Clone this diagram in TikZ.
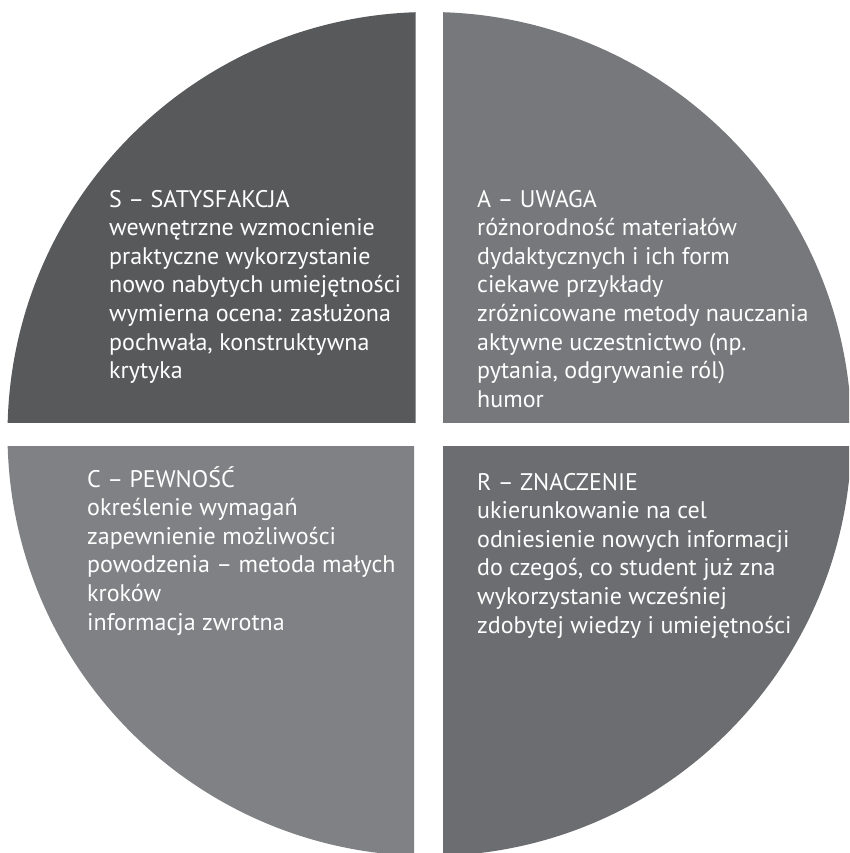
\documentclass[tikz,border=0pt]{standalone}
\usepackage{fontspec}
\setmainfont{PT Sans}
\definecolor{qtl}{HTML}{58595B}
\definecolor{qtr}{HTML}{77787B}
\definecolor{qbl}{HTML}{808184}
\definecolor{qbr}{HTML}{6C6D70}
\definecolor{qedge}{HTML}{B8B9BB}
\tikzset{
  quad/.style={draw=qedge, line width=0.7pt},
  qtext/.style={anchor=base west, inner sep=0pt, text=white,
    font=\fontsize{24}{28.6}\selectfont}
}
\newcommand{\qlines}[1]{\begin{tabular}[t]{@{}l@{}}#1\end{tabular}}
\begin{document}
\begin{tikzpicture}[x=1pt,y=-1pt]
\useasboundingbox (0,0) rectangle (849,853);
\def\cx{429.5}\def\cy{434}\def\R{422}
\begin{scope}
  \clip (0,0) rectangle (849,853);
  \begin{scope}
    \clip (0,0) rectangle (415.5,422.5);
    \fill[qtl] (\cx,\cy) circle[radius=\R];
  \end{scope}
  \begin{scope}
    \clip (443,0) rectangle (900,422.5);
    \fill[qtr] (\cx,\cy) circle[radius=\R];
  \end{scope}
  \begin{scope}
    \clip (0,446.5) rectangle (414,900);
    \fill[qbl] (\cx,\cy) circle[radius=\R];
  \end{scope}
  \begin{scope}
    \clip (443,446.5) rectangle (900,900);
    \fill[qbr] (\cx,\cy) circle[radius=\R];
  \end{scope}
\end{scope}
\node[qtext] (s) at (109,207) {\qlines{S – SATYSFAKCJA\\ wewnętrzne wzmocnienie\\ praktyczne wykorzystanie\\ nowo nabytych umiejętności\\ wymierna ocena: zasłużona\\ pochwała, konstruktywna\\ krytyka}};
\node[qtext] (a) at (477,207) {\qlines{A – UWAGA\\ różnorodność materiałów\\ dydaktycznych i ich form\\ ciekawe przykłady\\ zróżnicowane metody nauczania\\ aktywne uczestnictwo (np.\\ pytania, odgrywanie ról)\\ humor}};
\node[qtext] (c) at (87,487) {\qlines{C – PEWNOŚĆ\\ określenie wymagań\\ zapewnienie możliwości\\ powodzenia – metoda małych\\ kroków\\ informacja zwrotna}};
\node[qtext] (r) at (477,490) {\qlines{R – ZNACZENIE\\ ukierunkowanie na cel\\ odniesienie nowych informacji\\ do czegoś, co student już zna\\ wykorzystanie wcześniej\\ zdobytej wiedzy i umiejętności}};
\end{tikzpicture}
\end{document}
